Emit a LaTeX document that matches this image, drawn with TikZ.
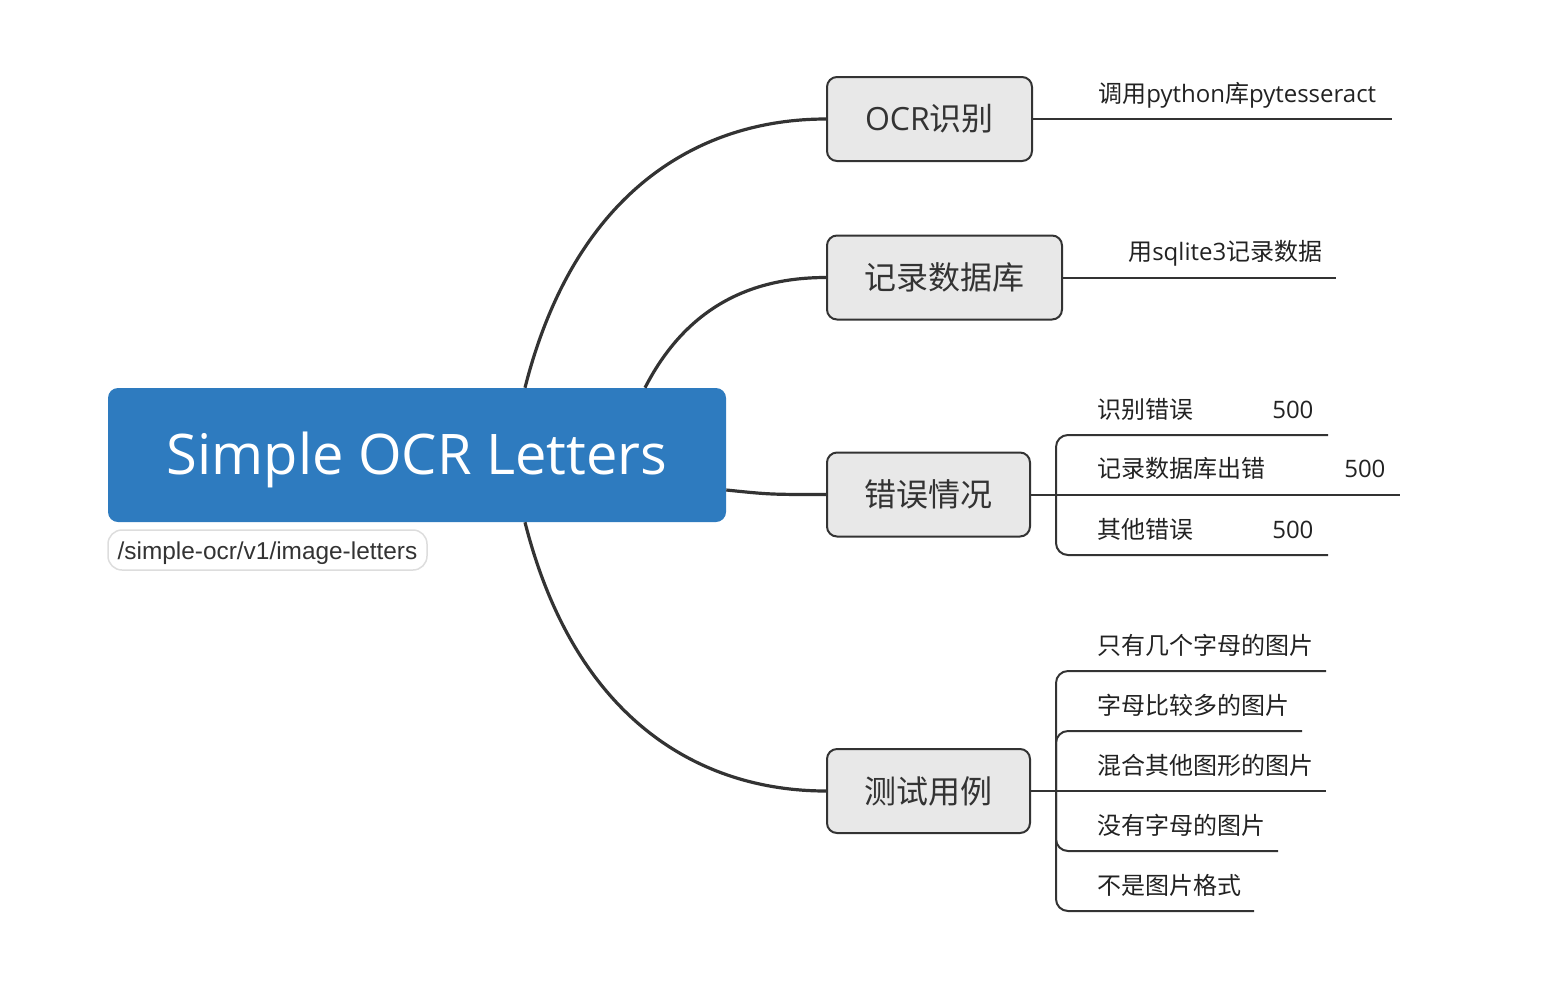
\documentclass[tikz,border=0pt]{standalone}
\usepackage{fontspec}
\setmainfont{Open Sans}
\newfontfamily\cjk{Noto Sans CJK SC}
\newfontfamily\pathfont{Liberation Sans}
\usetikzlibrary{calc}
\newdimen\upx \upx=0.75pt
\definecolor{rootblue}{HTML}{2E7BBF}
\definecolor{boxgray}{HTML}{E8E8E8}
\definecolor{ink}{HTML}{333333}
\definecolor{leafink}{HTML}{222222}
\definecolor{tagline}{HTML}{DDDDDD}
\begin{document}
\begin{tikzpicture}[x=0.75pt,y=-0.75pt,
 rootbox/.style={fill=rootblue, rounded corners=10\upx, minimum width=618\upx, minimum height=134\upx, inner sep=0pt, text=white, text depth=2pt, font=\fontsize{42}{50}\selectfont},
 tagbox/.style={draw=tagline, line width=1.5\upx, fill=white, rounded corners=14\upx, minimum width=319\upx, minimum height=40\upx, inner sep=0pt, text=ink, text height=17.5pt, text depth=3.8pt, font=\pathfont\fontsize{18.3}{22}\selectfont},
 topicbox/.style={draw=ink, line width=2\upx, fill=boxgray, rounded corners=10\upx, minimum height=84\upx, inner sep=0pt, text=ink, font=\fontsize{24}{28}\selectfont},
 branch/.style={draw=ink, line width=3.2\upx},
 leafline/.style={draw=ink, line width=2\upx, rounded corners=12\upx},
 leaf/.style={anchor=base west, inner sep=0pt, text=leafink, font=\fontsize{18}{22}\selectfont},
]
\useasboundingbox (0,0) rectangle (1562,986);

% central topic and its tag
\node[rootbox] (root) at (417,455) {Simple OCR Letters};
\node[tagbox] (tag) at (267.5,550) {/simple-ocr/v1/image-letters};

% main topics
\node[topicbox, minimum width=205\upx] (ocr) at (929.5,119) {OCR{\cjk 识别}};
\node[topicbox, minimum width=235\upx] (db) at (944.5,277.5) {{\cjk 记录数据库}};
\node[topicbox, minimum width=203\upx] (err) at (928.5,494.5) {{\cjk 错误情况}};
\node[topicbox, minimum width=203\upx] (test) at (928.5,791) {{\cjk 测试用例}};

% branches from the central topic
\draw[branch] ($(root.north)+(108,0)$) .. controls (575,190) and (700,119) .. (ocr.west);
\draw[branch] ($(root.north)+(228,0)$) .. controls (690,300) and (760,277.5) .. (db.west);
\draw[branch] ($(root.east)+(0,35)$) .. controls (770,494.5) .. (err.west);
\draw[branch] ($(root.south)+(108,0)$) .. controls (575,720) and (700,791) .. (test.west);

% OCR leaf
\coordinate (ocrEnd) at (1392,119);
\draw[leafline] (ocr.east) -- (ocrEnd);
\node[leaf] (ocrLeaf) at (1098,102) {{\cjk 调用}python{\cjk 库}pytesseract};

% database leaf
\coordinate (dbEnd) at (1336,277.5);
\draw[leafline] (db.east) -- (dbEnd);
\node[leaf] (dbLeaf) at (1128,260) {{\cjk 用}sqlite3{\cjk 记录数据}};

% error leaves
\coordinate (errJ) at (1056,494.5);
\coordinate (errC1) at (1056,435);
\coordinate (errE1) at (1328,435);
\coordinate (errE2) at (1400,494.5);
\coordinate (errC3) at (1056,555);
\coordinate (errE3) at (1328,555);
\draw[leafline] (err.east) -- (errJ);
\draw[leafline] (errJ) -- (errC1) -- (errE1);
\draw[leafline] (errJ) -- (errE2);
\draw[leafline] (errJ) -- (errC3) -- (errE3);
\node[leaf] (errL1) at (1097,418) {{\cjk 识别错误}};
\node[leaf] (errN1) at (1272,418) {500};
\node[leaf] (errL2) at (1097,477.5) {{\cjk 记录数据库出错}};
\node[leaf] (errN2) at (1344,477.5) {500};
\node[leaf] (errL3) at (1097,538) {{\cjk 其他错误}};
\node[leaf] (errN3) at (1272,538) {500};

% test leaves
\coordinate (testJ) at (1056,791);
\coordinate (tC1) at (1056,671);
\coordinate (tE1) at (1326,671);
\coordinate (tC2) at (1056,731);
\coordinate (tE2) at (1302,731);
\coordinate (tE3) at (1326,791);
\coordinate (tC4) at (1056,851);
\coordinate (tE4) at (1278,851);
\coordinate (tC5) at (1056,911);
\coordinate (tE5) at (1254,911);
\draw[leafline] (test.east) -- (testJ);
\draw[leafline] (testJ) -- (tC1) -- (tE1);
\draw[leafline] (testJ) -- (tC2) -- (tE2);
\draw[leafline] (testJ) -- (tE3);
\draw[leafline] (testJ) -- (tC4) -- (tE4);
\draw[leafline] (testJ) -- (tC5) -- (tE5);
\node[leaf] (tL1) at (1097,654) {{\cjk 只有几个字母的图片}};
\node[leaf] (tL2) at (1097,714) {{\cjk 字母比较多的图片}};
\node[leaf] (tL3) at (1097,774) {{\cjk 混合其他图形的图片}};
\node[leaf] (tL4) at (1097,834) {{\cjk 没有字母的图片}};
\node[leaf] (tL5) at (1097,894) {{\cjk 不是图片格式}};
\end{tikzpicture}
\end{document}
